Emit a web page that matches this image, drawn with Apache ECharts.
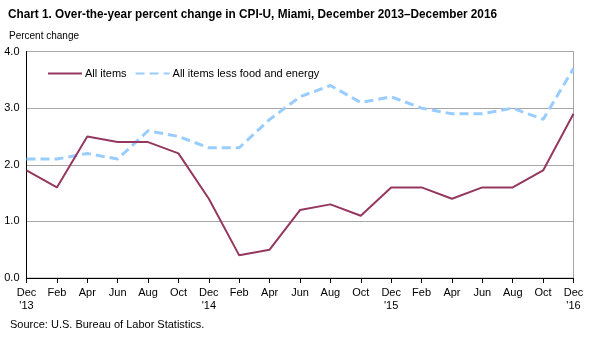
<!DOCTYPE html>
<html>
<head>
<meta charset="utf-8">
<script src="https://cdn.jsdelivr.net/npm/echarts@6/dist/echarts.min.js"></script>
<style>
  html, body { margin: 0; padding: 0; background: #fff; }
  #chart { width: 591px; height: 337px; }
</style>
</head>
<body>
<div id="chart"></div>
<script>
// Two-month steps, December 2013 through December 2016
const categories = ["Dec\n'13", "Feb", "Apr", "Jun", "Aug", "Oct",
                    "Dec\n'14", "Feb", "Apr", "Jun", "Aug", "Oct",
                    "Dec\n'15", "Feb", "Apr", "Jun", "Aug", "Oct",
                    "Dec\n'16"];
const allItems = [1.9, 1.6, 2.5, 2.4, 2.4, 2.2, 1.4, 0.4, 0.5, 1.2, 1.3, 1.1,
                  1.6, 1.6, 1.4, 1.6, 1.6, 1.9, 2.9];
const lessFoodEnergy = [2.1, 2.1, 2.2, 2.1, 2.6, 2.5, 2.3, 2.3, 2.8, 3.2, 3.4, 3.1,
                        3.2, 3.0, 2.9, 2.9, 3.0, 2.8, 3.7];
const yTicks = { min: 0, max: 4, step: 1 };

const font = 'Arial, "Liberation Sans", sans-serif';
const chart = echarts.init(document.getElementById('chart'), null, { renderer: 'canvas' });

chart.setOption({
  animation: false,
  textStyle: { fontFamily: font },
  title: [
    {
      text: 'Percent change',
      left: 9, top: 31, padding: 0,
      textStyle: { fontFamily: font, fontSize: 10, fontWeight: 'normal', color: '#000' }
    },
    {
      text: 'Source: U.S. Bureau of Labor Statistics.',
      left: 10, top: 319, padding: 0,
      textStyle: { fontFamily: font, fontSize: 11, fontWeight: 'normal', color: '#000' }
    }
  ],
  graphic: [
    {
      // condensed bold heading
      type: 'text',
      x: 8, y: 8,
      scaleX: 0.906,
      style: {
        text: 'Chart 1. Over-the-year percent change in CPI-U, Miami, December 2013\u2013December 2016',
        font: 'bold 13px Arial, "Liberation Sans", sans-serif',
        fill: '#000',
        textVerticalAlign: 'top'
      }
    }
  ],
  legend: {
    left: 47, top: 68, padding: 0,
    itemWidth: 34, itemHeight: 10, itemGap: 8,
    textStyle: { fontFamily: font, fontSize: 11, color: '#000', padding: [0, 0, 0, -2] },
    itemStyle: { opacity: 0 },
    data: ['All items', 'All items less food and energy']
  },
  grid: {
    left: 26.5, right: 17.5, top: 51.5, bottom: 59,
    show: true, borderColor: '#a6a6a6', borderWidth: 1,
    containLabel: false
  },
  xAxis: {
    type: 'category',
    data: categories,
    boundaryGap: false,
    axisLine: { lineStyle: { color: '#000', width: 1 } },
    axisTick: { show: true, length: 5, inside: false, lineStyle: { color: '#000' }, alignWithLabel: true },
    axisLabel: { fontFamily: font, fontSize: 11, color: '#000', interval: 0, margin: 8, lineHeight: 13 },
    splitLine: { show: false }
  },
  yAxis: {
    type: 'value',
    min: yTicks.min, max: yTicks.max, interval: yTicks.step,
    axisLine: { show: true, lineStyle: { color: '#000', width: 1 } },
    axisTick: { show: false },
    axisLabel: {
      fontFamily: font, fontSize: 11, color: '#000', margin: 7,
      formatter: v => v.toFixed(1)
    },
    splitLine: { show: true, lineStyle: { color: '#a6a6a6', width: 1 } }
  },
  series: [
    {
      name: 'All items',
      type: 'line',
      data: allItems,
      symbol: 'none',
      lineStyle: { color: '#953860', width: 2 },
      itemStyle: { color: '#953860' },
      z: 3
    },
    {
      name: 'All items less food and energy',
      type: 'line',
      data: lessFoodEnergy,
      symbol: 'none',
      lineStyle: { color: '#99ccff', width: 3, type: [9, 5] },
      itemStyle: { color: '#99ccff' },
      z: 2
    }
  ]
});
</script>
</body>
</html>
